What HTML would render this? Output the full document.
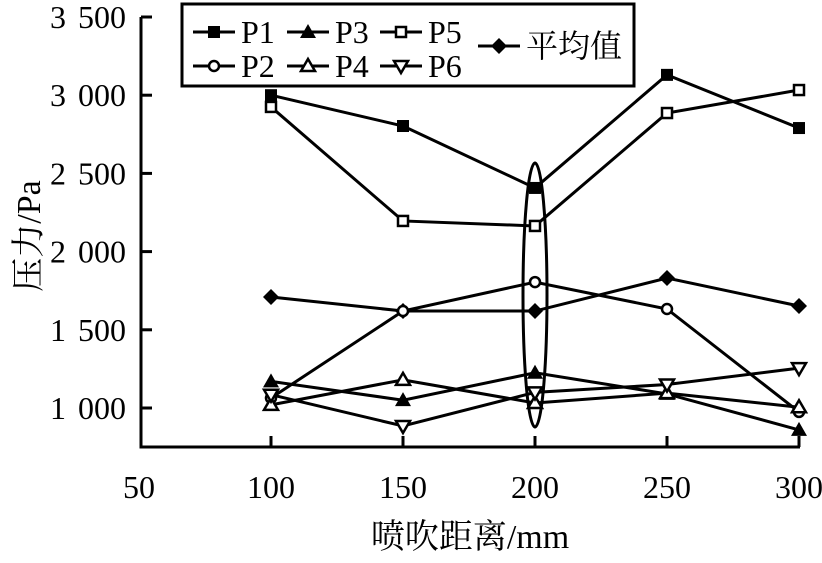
<!DOCTYPE html>
<html><head><meta charset="utf-8"><style>
html,body{margin:0;padding:0;background:#fff}
svg text{font-family:"Liberation Serif","Noto Serif CJK SC",serif;fill:#000}
</style></head><body>
<svg id="chart" width="822" height="558" viewBox="0 0 822 558" xmlns="http://www.w3.org/2000/svg"></svg>
<script>
const categories=[100,150,200,250,300];
const p1=[3000,2803,2407,3130,2790];
const p2=[1064,1620,1805,1633,975];
const p3=[1170,1050,1225,1090,860];
const p4=[1020,1180,1032,1095,1005];
const p5=[2925,2196,2164,2886,3033];
const p6=[1085,885,1100,1150,1255];
const avg=[1710,1620,1620,1831,1652];
const yTicks=[1000,1500,2000,2500,3000,3500];
const yTickLabels=["1 000","1 500","2 000","2 500","3 000","3 500"];
const xTicks=[50,100,150,200,250,300];
const NS="http://www.w3.org/2000/svg";
const svg=document.getElementById('chart');
const X0=141,Y0=447;
function xs(v){return 139+(v-50)*132/50;}
function ys(v){return 408-(v-1000)*78.2/500;}
function mk(tag,attrs,parent){const e=document.createElementNS(NS,tag);for(const k in attrs)e.setAttribute(k,attrs[k]);(parent||svg).appendChild(e);return e;}
let ax=mk('path',{d:`M${X0},${ys(3500)} V${Y0} H${xs(300)+1}`,fill:'none',stroke:'#000','stroke-width':3});


yTicks.forEach((v,i)=>{
 const t=mk('line',{x1:X0,x2:X0+11,y1:ys(v),y2:ys(v),stroke:'#000','stroke-width':3});
 
 
 const l=mk('text',{x:126,y:ys(v)+11,'text-anchor':'end','font-size':32,'word-spacing':'4'});
 l.textContent=yTickLabels[i];
 
 
});
xTicks.forEach(v=>{
 if(v>50){const t=mk('line',{x1:xs(v),x2:xs(v),y1:Y0,y2:Y0-11,stroke:'#000','stroke-width':3});
 
 }
 const l=mk('text',{x:xs(v),y:498,'text-anchor':'middle','font-size':32});
 l.textContent=v;
 
 
});
let xt=mk('text',{x:470,y:548,'text-anchor':'middle','font-size':34});
xt.textContent='喷吹距离/mm';


let yt=mk('text',{x:0,y:0,'text-anchor':'middle','font-size':34,transform:'translate(40,236) rotate(-90)'});
yt.textContent='压力/Pa';


function marker(type,x,y,g){
 const s=6;
 if(type==='sqf')return mk('rect',{x:x-s,y:y-s,width:2*s,height:2*s,fill:'#000'},g);
 if(type==='sqo')return mk('rect',{x:x-5,y:y-5,width:10,height:10,fill:'#fff',stroke:'#000','stroke-width':2.5},g);
 if(type==='cir')return mk('circle',{cx:x,cy:y,r:5,fill:'#fff',stroke:'#000','stroke-width':2.5},g);
 if(type==='trf')return mk('path',{d:`M${x},${y-8} L${x+8},${y+6} L${x-8},${y+6}Z`,fill:'#000'},g);
 if(type==='tro')return mk('path',{d:`M${x},${y-7} L${x+7},${y+5} L${x-7},${y+5}Z`,fill:'#fff',stroke:'#000','stroke-width':2.5},g);
 if(type==='trd')return mk('path',{d:`M${x},${y+7} L${x+7},${y-5} L${x-7},${y-5}Z`,fill:'#fff',stroke:'#000','stroke-width':2.5},g);
 if(type==='dia')return mk('path',{d:`M${x},${y-8} L${x+8},${y} L${x},${y+8} L${x-8},${y}Z`,fill:'#000'},g);
}
const series=[['p1',p1,'sqf'],['p5',p5,'sqo'],['average',avg,'dia'],['p2',p2,'cir'],['p3',p3,'trf'],['p4',p4,'tro'],['p6',p6,'trd']];
series.forEach(([name,vals,m])=>{
 const g=mk('g',{});
 
 
 const l=mk('polyline',{points:vals.map((v,i)=>xs(categories[i])+','+ys(v)).join(' '),fill:'none',stroke:'#000','stroke-width':3},g);
 
 
 vals.forEach((v,i)=>{const e=marker(m,xs(categories[i]),ys(v),g);
  
  });
});
let el=mk('ellipse',{cx:xs(200),cy:295,rx:12,ry:132,fill:'none',stroke:'#000','stroke-width':3});


const lg=mk('g',{});


mk('rect',{x:182,y:4,width:452,height:82,fill:'#fff',stroke:'#000','stroke-width':3},lg);
const leg=[['P1','sqf',193,32],['P3','trf',287,32],['P5','sqo',380,32],['P2','cir',193,66],['P4','tro',287,66],['P6','trd',380,66],['平均值','dia',478,46]];
leg.forEach(([t,m,x,y])=>{
 const g=mk('g',{},lg);
 
 
 mk('line',{x1:x,x2:x+42,y1:y,y2:y,stroke:'#000','stroke-width':3},g);
 marker(m,x+21,y,g);
 const tx=mk('text',{x:x+48,y:y+11,'font-size':32},g);tx.textContent=t;
});
</script>
</body></html>
